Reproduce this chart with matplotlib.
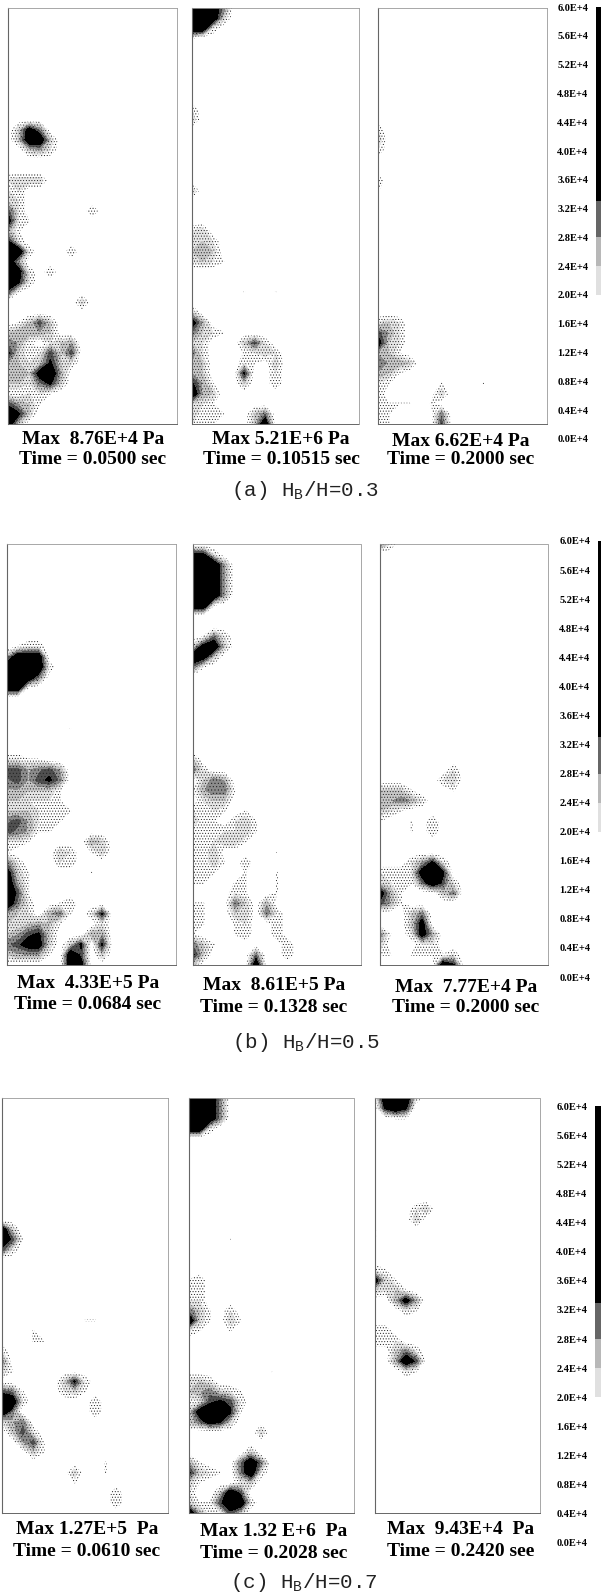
import numpy as np
import matplotlib
matplotlib.use('Agg')
import matplotlib.pyplot as plt

# pressure on a 17 x 42 grid, digit = 0.5E+4 Pa, '.' = none
# only rows that have something in them, row 0 is the top of the panel
a1 = {12: ".385", 13: ".3993", 14: "..342", 17: "2333", 18: "22", 19: "32", 20: "62......2",
      21: "821", 22: "41", 23: "72", 24: "992...2", 25: "94", 26: "982.2", 27: "972", 28: "61",
      29: ".......3", 31: ".1363", 32: "34443", 33: "541.234", 34: "7312636", 35: "4323732",
      36: "443894", 37: "332573", 38: "11221", 39: "6431", 40: "973", 41: "93"}
a2 = {0: "9995", 1: "9993", 2: "992", 3: "1", 10: "2", 11: "3", 18: "3", 22: "23", 23: "332",
      24: "343", 25: "2321", 28: ".....1..1", 30: "3", 31: "84", 32: "5321", 33: "32...362",
      34: "52...1232", 35: "43...21.3", 36: "43...7..2", 37: "741..3..2", 38: "943", 39: "321",
      40: "3111..35", 41: "211...39"}
a3 = {12: "2", 13: "3", 14: "2", 17: "2", 18: "1", 31: "232", 32: "642", 33: "832", 34: "431",
      35: "5443", 36: "431", 37: "21....1...1", 38: "2.....3", 39: "2111.1", 40: "21....5",
      41: "11....6"}
b1 = {10: ".122", 11: "4999", 12: "99992", 13: "9995", 14: "991", 18: "......1", 21: "2211",
      22: "664564", 23: "564675", 24: "443331", 25: "332221", 26: "3332111", 27: "564211",
      28: "65411", 29: "221.....43", 30: "1....32.13", 31: "52...22", 32: "831.....1", 33: "941",
      34: "961", 35: "952..12", 36: "432.451.27", 37: "323431...2", 38: "34673...44",
      39: "56883.37.7", 40: "34441.96.3", 41: "......98"}
b2 = {1: "772", 2: "9994", 3: "9994", 4: "9994", 5: "9994", 6: "991", 9: ".152", 10: "3893",
      11: "983", 12: "51", 21: "3", 22: "52", 23: ".354", 24: "14551", 25: ".233", 26: "2121.1",
      27: "311.231", 28: "1222231", 29: "122331", 30: "113.....1", 31: "1131.2", 32: "111..1..1",
      33: "11..11..1", 34: "....21..1", 35: "11..53.4", 36: "11..33.52", 37: "11..12..2",
      38: "1...12..2", 39: "531......2", 40: "73....5..2", 41: "3.....9"}
b3 = {0: "52", 22: ".......2", 23: "......23", 24: "3331...1", 25: "44542", 26: "321", 27: "1..1.2",
      28: "...1.2", 31: "...2472", 32: "2222897", 33: "32115962", 34: "841...35", 35: "641",
      36: "...35", 37: "...38", 38: "51.284", 39: "3...22", 40: "11.11112", 41: "......97"}
c1 = {13: "93", 14: "961", 15: "62", 22: "........11", 23: "...1", 24: "...11", 25: "2", 26: "5",
      27: "31", 28: "......372", 29: "651...231", 30: "992......2", 31: "95.......2", 32: "245",
      33: ".362", 34: "..461", 35: "...31", 36: "..........1", 37: ".......3..1", 38: ".......1",
      39: "...........2", 40: "...........2"}
c2 = {0: "9995", 1: "9995", 2: "9995", 3: "992", 14: "....1", 18: "12", 19: "22", 20: "22",
      21: "531.2", 22: "931.31", 23: "21..1", 27: "........1", 28: "332", 29: "345321",
      30: "126762", 31: "389971", 32: "35873", 33: ".......3", 35: "......3", 36: "41...595",
      37: "7321.592", 38: "31...23", 39: "2..396", 40: "3116992", 41: "941163"}
c3 = {0: "19992", 1: ".797", 2: "..11", 11: "....23", 12: "....3", 13: "1", 14: "1", 17: "21",
      18: "831", 19: "3231", 20: "..484", 21: "...21", 23: "22", 24: "222", 25: "..352",
      26: "..496", 27: "...21"}

max_labels = ["Max  8.76E+4 Pa", "Max 5.21E+6 Pa", "Max 6.62E+4 Pa",
              "Max  4.33E+5 Pa", "Max  8.61E+5 Pa", "Max  7.77E+4 Pa",
              "Max 1.27E+5  Pa", "Max 1.32 E+6  Pa", "Max  9.43E+4  Pa"]
time_labels = ["Time = 0.0500 sec", "Time = 0.10515 sec", "Time = 0.2000 sec",
               "Time = 0.0684 sec", "Time = 0.1328 sec", "Time = 0.2000 sec",
               "Time = 0.0610 sec", "Time = 0.2028 sec", "Time = 0.2420 see"]
captions = [r"(a) H$_{\mathregular{B}}$/H=0.3", r"(b) H$_{\mathregular{B}}$/H=0.5",
            r"(c) H$_{\mathregular{B}}$/H=0.7"]
bar_ticks = [0.0, 0.4, 0.8, 1.2, 1.6, 2.0, 2.4, 2.8, 3.2, 3.6, 4.0, 4.4, 4.8, 5.2, 5.6, 6.0]

# grey steps of the contours, 1E+4 Pa
levels = [0.45, 1.0, 1.5, 2.1, 2.7, 3.3, 10]
greys = ['#ffffff', '#e8e8e8', '#c8c8c8', '#8c8c8c', '#505050', '#000000']
dither = ['......', '......', '......', '.....', '.....', None]
bar_edges = [0, 2.0, 2.4, 2.8, 3.3, 6.0]
bar_greys = ['#ffffff', '#e0e0e0', '#b8b8b8', '#666666', '#000000']

W, H = 601, 1595
plt.rcParams['hatch.linewidth'] = 0.4
plt.rcParams['hatch.color'] = '#222222'
fig = plt.figure(figsize=(W / 100, H / 100), dpi=100)
serif = 'Liberation Serif'


def box(x0, y0, x1, y1):
    return [x0 / W, 1 - y1 / H, (x1 - x0) / W, (y1 - y0) / H]


def to_grid(rows):
    grid = np.zeros((42, 17))
    for r, s in rows.items():
        for c, ch in enumerate(s):
            if ch != '.':
                grid[r, c] = int(ch) * 0.5
    return grid


panels = [a1, a2, a3, b1, b2, b3, c1, c2, c3]
frames = [(8, 8, 177, 424), (192, 8, 359, 424), (378, 8, 547, 424),
          (7, 544, 176, 965), (193, 544, 361, 965), (380, 544, 548, 965),
          (2, 1098, 168, 1513), (189, 1098, 354, 1513), (375, 1098, 540, 1513)]
text_pos = [(93, 439, 459), (281, 439, 459), (461, 442, 460),
            (88, 983, 1005), (274, 985, 1007), (466, 987, 1007),
            (87, 1529, 1551), (274, 1532, 1553), (461, 1530, 1552)]

X = np.linspace(0, 1, 17)
Y = np.linspace(1, 0, 42)
for rows, frame, pos, mx, tm in zip(panels, frames, text_pos, max_labels, time_labels):
    ax = fig.add_axes(box(*frame))
    ax.contourf(X, Y, to_grid(rows), levels=levels, colors=greys, hatches=dither)
    ax.set_xlim(0, 1)
    ax.set_ylim(0, 1)
    ax.set_xticks([])
    ax.set_yticks([])
    for side in ['top', 'right']:
        ax.spines[side].set(color='#999999', linewidth=0.6, linestyle=(0, (1, 1)))
    ax.spines['left'].set(color='#666666', linewidth=0.8)
    ax.spines['bottom'].set(color='#666666', linewidth=0.7, linestyle=(0, (3, 1)))
    fig.text(pos[0] / W, 1 - pos[1] / H, mx, family=serif, weight='bold', fontsize=14,
             ha='center', va='center')
    fig.text(pos[0] / W, 1 - pos[2] / H, tm, family=serif, weight='bold', fontsize=14,
             ha='center', va='center')

# colour bars, one per row
bars = [(596, 7, 601, 439), (598, 541, 601, 977), (595, 1106, 601, 1543)]
for frame in bars:
    ax = fig.add_axes(box(*frame))
    ax.pcolormesh([0, 1], bar_edges, np.arange(5).reshape(5, 1),
                  cmap=matplotlib.colors.ListedColormap(bar_greys))
    ax.set_xlim(0, 1)
    ax.set_ylim(0, 6)
    ax.set_xticks([])
    ax.set_yticks(bar_ticks)
    ax.set_yticklabels(['%.1fE+4' % t for t in bar_ticks], family=serif, weight='bold', fontsize=7.5)
    ax.tick_params(axis='y', length=0, pad=5.5)
    for s in ax.spines.values():
        s.set_visible(False)

for (x, y), cap in zip([(305, 490), (306, 1043), (304, 1583)], captions):
    fig.text(x / W, 1 - y / H, cap, family='Liberation Mono', fontsize=15, ha='center',
             va='center', color='#222222')

fig.savefig('out.png', dpi=100)
